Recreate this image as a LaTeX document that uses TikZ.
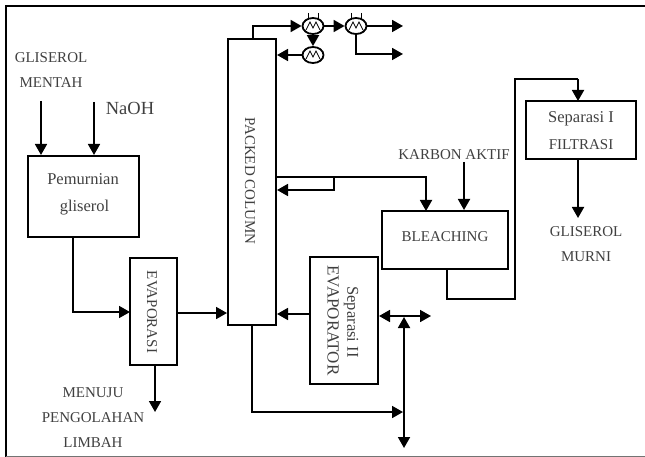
\documentclass[tikz,border=0pt]{standalone}
\usepackage{fontspec}
\setmainfont{Liberation Serif}
\usetikzlibrary{arrows.meta,shapes.geometric}
\tikzset{
    unit/.style={shape=rectangle,draw=black,line width=2pt,minimum width=#1},
    label/.style={text=black!75,font=\fontsize{15}{15}\selectfont},
    lower/.style={text=black!75,font=\fontsize{16.5}{16.5}\selectfont},
    pipe/.style={line width=1.8pt},
    flow/.style={pipe,-{Triangle[length=11pt,width=12pt]}},
    both/.style={pipe,{Triangle[length=11pt,width=12pt]}-{Triangle[length=11pt,width=12pt]}},
    hx/.style={shape=ellipse,draw=black,line width=1.8pt,minimum width=21pt,minimum height=16pt,inner sep=0pt}
}
\begin{document}
\begin{tikzpicture}[x=1pt,y=-1pt]
    \useasboundingbox (0,0) rectangle (645,457);
    \draw[line width=2pt] (6,457) -- (6,6) -- (645,6);
    \draw[line width=1pt,black!55] (6,456.5) -- (645,456.5);

    \node[unit=111pt,minimum height=81pt] (pemurnian) at (83.5,196.5) {};
    \node[lower] (pemurniantop) at (83,179) {Pemurnian};
    \node[lower] (pemurnianbot) at (84.5,208) {gliserol};
    \node[unit=47pt,minimum height=107pt] (evaporasi) at (153.5,311.5) {};
    \node[label,rotate=-90] (evaporasilabel) at (152,312) {EVAPORASI};
    \node[unit=48pt,minimum height=286pt] (column) at (252,182) {};
    \node[label,rotate=-90] (columnlabel) at (250,181) {PACKED COLUMN};
    \node[unit=68pt,minimum height=127pt] (sepdua) at (344,320.5) {};
    \node[lower,rotate=-90] (sepdualabel) at (351,322) {Separasi II};
    \node[font=\fontsize{17}{17}\selectfont,text=black!75,rotate=-90] (evaporatorlabel) at (333,320.5) {EVAPORATOR};
    \node[unit=126pt,minimum height=58pt] (bleaching) at (445,240) {};
    \node[label] (bleachinglabel) at (445,237) {BLEACHING};
    \node[unit=110pt,minimum height=58pt] (sepsatu) at (581,130) {};
    \node[lower] (sepsatutop) at (581,119) {Separasi I};
    \node[label] (sepsatubot) at (581,145) {FILTRASI};

    \node[label] (gliserol) at (51,58) {GLISEROL};
    \node[label] (mentah) at (51,83) {MENTAH};
    \node[text=black!75,font=\fontsize{18.5}{18.5}\selectfont] (naoh) at (130,108) {NaOH};
    \node[label] (karbon) at (454,155) {KARBON AKTIF};
    \node[label] (murni) at (586,232) {GLISEROL};
    \node[label] (murnibot) at (586,257) {MURNI};
    \node[label] (menuju) at (93,393) {MENUJU};
    \node[label] (pengolahan) at (93,418) {PENGOLAHAN};
    \node[label] (limbah) at (93,443) {LIMBAH};

    \node[hx] (hxa) at (313,26) {};
    \node[hx] (hxb) at (356,26) {};
    \node[hx] (hxc) at (313,55) {};
    \foreach \n in {hxa,hxb,hxc} {
        \draw[line width=0.8pt] (\n.center) ++(-7,4) -- ++(4,-8) -- ++(3,6) -- ++(3,-6) -- ++(4,8);
    }
    \foreach \n in {hxa,hxb} {
        \draw[line width=0.8pt] (\n.center) ++(-5,-13) -- ++(0,7);
        \draw[line width=0.8pt] (\n.center) ++(5,-13) -- ++(0,7);
    }

    \coordinate (glisin) at (41,101);
    \coordinate (naohin) at (94,102);
    \coordinate (karbonin) at (464,162);
    \coordinate (limbahtop) at (155,365);
    \coordinate (limbahout) at (155,412);
    \coordinate (pemout) at (73,237);
    \coordinate (evapin) at (130,312);
    \coordinate (evapout) at (177,313);
    \coordinate (coltop) at (253,39);
    \coordinate (hxbone) at (403,26);
    \coordinate (hxbtwo) at (403,54);
    \coordinate (colright) at (276,177);
    \coordinate (branch) at (334,177);
    \coordinate (branchend) at (334,190);
    \coordinate (bleachin) at (426,211);
    \coordinate (bleachout) at (447,269);
    \coordinate (bleachlow) at (447,299);
    \coordinate (riser) at (515,299);
    \coordinate (risertop) at (515,79);
    \coordinate (sepin) at (578,101);
    \coordinate (sepout) at (578,159);
    \coordinate (murniout) at (578,218);
    \coordinate (sepmid) at (310,314);
    \coordinate (sepleft) at (379,316);
    \coordinate (sepright) at (431,316);
    \coordinate (vtop) at (404,317);
    \coordinate (vbot) at (404,448);
    \coordinate (colbot) at (252,325);
    \coordinate (collow) at (403,412);

    \draw[flow] (glisin) -- (glisin |- pemurnian.north);
    \draw[flow] (naohin) -- (naohin |- pemurnian.north);
    \draw[flow] (pemout) |- (evapin);
    \draw[flow] (evapout) -- (evapout -| column.west);
    \draw[flow] (limbahtop) -- (limbahout);
    \draw[flow] (coltop) |- (hxa.west);
    \draw[flow] (hxa.east) -- (hxb.west);
    \draw[flow] (hxa.south) -- (hxc.north);
    \draw[flow] (hxc.west) -- (hxc.west -| column.east);
    \draw[flow] (hxb.east) -- (hxbone);
    \draw[flow] (hxb.south) |- (hxbtwo);
    \draw[flow] (colright) -| (bleachin);
    \draw[flow] (branch) |- (branchend -| column.east);
    \draw[flow] (karbonin) -- (karbonin |- bleaching.north);
    \draw[pipe] (bleachout) -- (bleachlow) -- (riser) -- (risertop) -- (risertop -| sepin);
    \draw[flow] (risertop -| sepin) -- (sepin);
    \draw[flow] (sepout) -- (murniout);
    \draw[flow] (sepmid) -- (sepmid -| column.east);
    \draw[both] (sepleft) -- (sepright);
    \draw[both] (vtop) -- (vbot);
    \draw[flow] (colbot) |- (collow);
\end{tikzpicture}
\end{document}
